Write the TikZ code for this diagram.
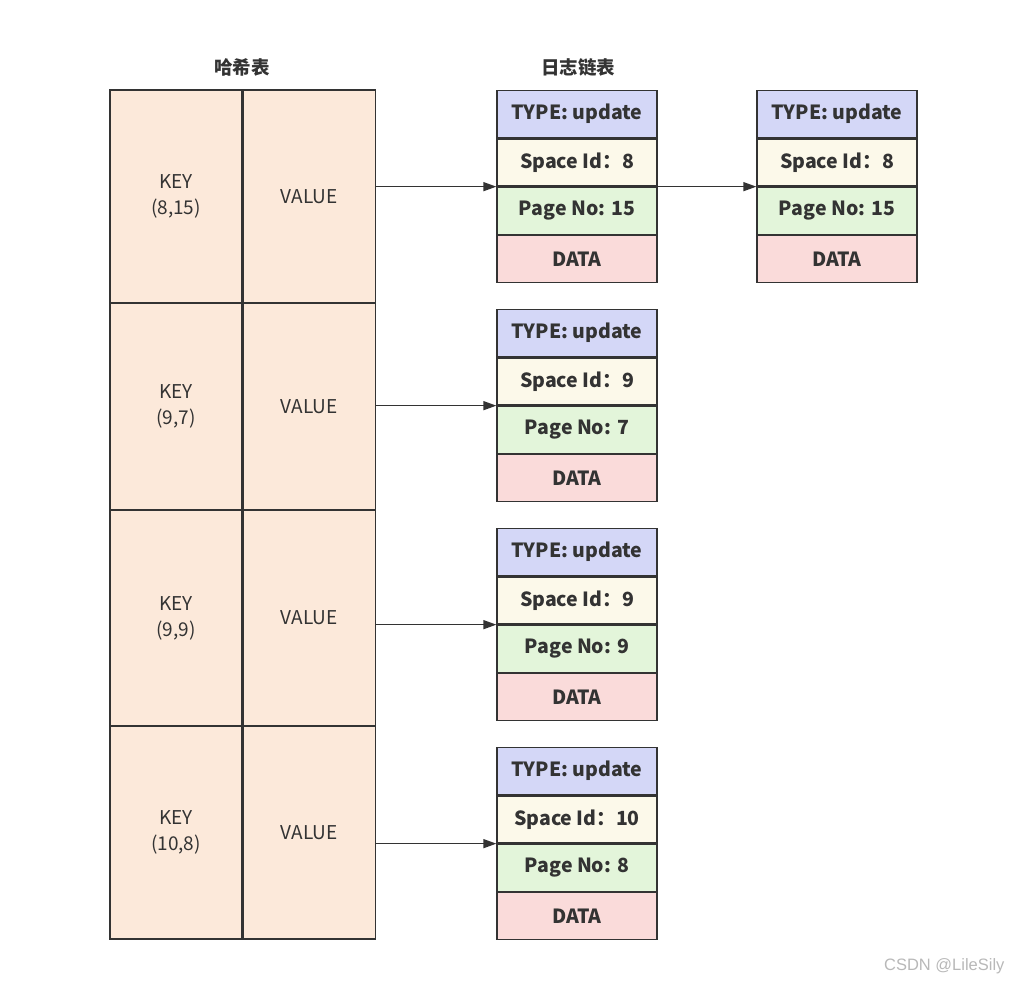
\documentclass[tikz,border=0pt]{standalone}
\usepackage{fontspec}
\setmainfont{Noto Sans CJK SC}
\newfontfamily\markfont{Liberation Sans}
\usepackage{xcolor}
\usepackage{tikz}
\usetikzlibrary{positioning, arrows.meta}
\definecolor{linegray}{HTML}{333333}
\definecolor{hashfill}{HTML}{FCE9DA}
\definecolor{typefill}{HTML}{D4D7F7}
\definecolor{spacefill}{HTML}{FCF9EA}
\definecolor{pagefill}{HTML}{E3F5DA}
\definecolor{datafill}{HTML}{FADBDA}
\tikzset{
  titlenode/.style={font=\bfseries\fontsize{18.5}{21}\selectfont, text=linegray},
  cellnode/.style={draw=linegray, line width=1.3pt, fill=hashfill, minimum width=132pt, align=center, inner sep=0pt, font=\fontsize{19}{26}\selectfont, text=linegray},
  fieldnode/.style={draw=linegray, line width=1.3pt, minimum width=160pt, minimum height=47pt, inner sep=0pt, font=\bfseries\fontsize{19.5}{22}\selectfont, text=linegray},
  typenode/.style={fieldnode, fill=typefill},
  spacenode/.style={fieldnode, fill=spacefill},
  pagenode/.style={fieldnode, fill=pagefill},
  datanode/.style={fieldnode, fill=datafill},
  arrow/.style={draw=linegray, line width=1.4pt, -{Triangle[length=13pt, width=9pt]}}
}

\begin{document}
\begin{tikzpicture}[x=1pt, y=-1pt]
\useasboundingbox (0,0) rectangle (1012,983);

% Titles
\node[titlenode] (hashtitle) at (242,67) {哈希表};
\node[titlenode] (logtitle) at (578,67) {日志链表};

% Hash table
\node[cellnode, minimum height=213pt] (k1) at (176,196.5) {KEY\\(8,15)};
\node[cellnode, minimum height=213pt, right=0pt of k1] (v1) {VALUE};
\node[cellnode, minimum height=207pt] (k2) at (176,406.5) {KEY\\(9,7)};
\node[cellnode, minimum height=207pt, right=0pt of k2] (v2) {VALUE};
\node[cellnode, minimum height=216pt] (k3) at (176,618) {KEY\\(9,9)};
\node[cellnode, minimum height=216pt, right=0pt of k3] (v3) {VALUE};
\node[cellnode, minimum height=213pt] (k4) at (176,832.5) {KEY\\(10,8)};
\node[cellnode, minimum height=213pt, right=0pt of k4] (v4) {VALUE};

% Log records
\node[typenode] (t1) at (577,114.2) {TYPE: update};
\node[spacenode, below=0pt of t1] (s1) {Space Id：8};
\node[pagenode, below=0pt of s1] (p1) {Page No: 15};
\node[datanode, below=0pt of p1] (d1) {DATA};

\node[typenode] (t1b) at (837,114.2) {TYPE: update};
\node[spacenode, below=0pt of t1b] (s1b) {Space Id：8};
\node[pagenode, below=0pt of s1b] (p1b) {Page No: 15};
\node[datanode, below=0pt of p1b] (d1b) {DATA};

\node[typenode] (t2) at (577,333.2) {TYPE: update};
\node[spacenode, below=0pt of t2] (s2) {Space Id：9};
\node[pagenode, below=0pt of s2] (p2) {Page No: 7};
\node[datanode, below=0pt of p2] (d2) {DATA};

\node[typenode] (t3) at (577,552.2) {TYPE: update};
\node[spacenode, below=0pt of t3] (s3) {Space Id：9};
\node[pagenode, below=0pt of s3] (p3) {Page No: 9};
\node[datanode, below=0pt of p3] (d3) {DATA};

\node[typenode] (t4) at (577,771.2) {TYPE: update};
\node[spacenode, below=0pt of t4] (s4) {Space Id：10};
\node[pagenode, below=0pt of s4] (p4) {Page No: 8};
\node[datanode, below=0pt of p4] (d4) {DATA};

% Edges
\draw[arrow] (v1.east |- p1.north west) -- (p1.north west);
\draw[arrow] (p1.north east) -- (p1b.north west);
\draw[arrow] (v2.east |- p2.north west) -- (p2.north west);
\draw[arrow] (v3.east |- p3.north west) -- (p3.north west);
\draw[arrow] (v4.east |- p4.north west) -- (p4.north west);

% Watermark
\node[font=\markfont\fontsize{16.5}{18}\selectfont, text=black!28, anchor=east] (mark) at (1008,966) {CSDN @LileSily};
\end{tikzpicture}
\end{document}
